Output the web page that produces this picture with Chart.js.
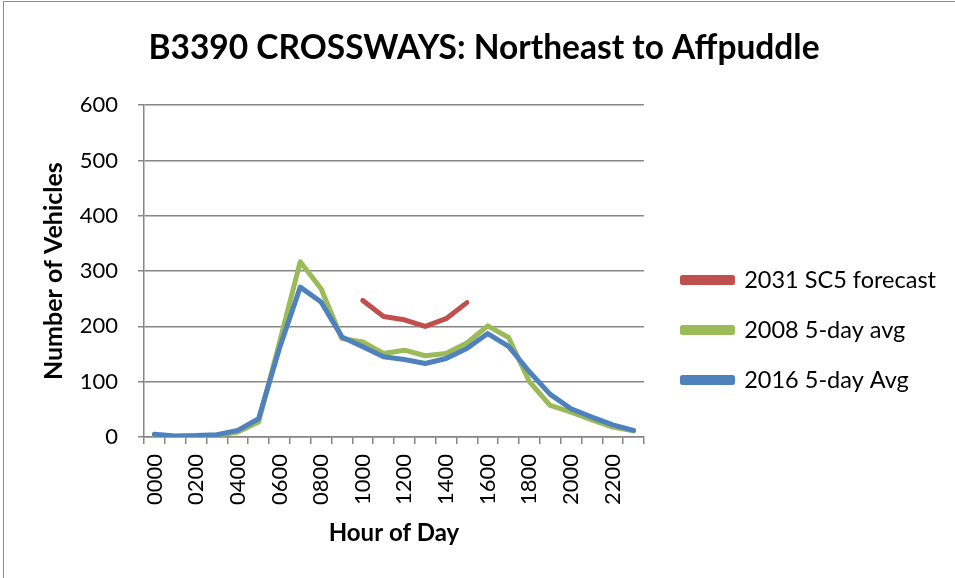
<!DOCTYPE html>
<html>
<head>
<meta charset="utf-8">
<script src="https://cdn.jsdelivr.net/npm/chart.js@4.4.0/dist/chart.umd.min.js"></script>
<style>
  html, body { margin: 0; padding: 0; background: #fff; overflow: hidden; }
  #c { position: absolute; left: 0; top: 0; }
  #frame { position: absolute; left: 3px; top: 1px; width: 1000px; height: 1000px; border: 1px solid #8c8c8c; pointer-events: none; }
</style>
</head>
<body>
<canvas id="c" width="955" height="578"></canvas>
<div id="frame"></div>
<script>
const hours = ['0000','0100','0200','0300','0400','0500','0600','0700','0800','0900','1000','1100',
               '1200','1300','1400','1500','1600','1700','1800','1900','2000','2100','2200','2300'];
const forecast2031 = [null,null,null,null,null,null,null,null,null,null,247,218,212,200,214,243,
                      null,null,null,null,null,null,null,null];
const avg2008 = [3,1,2,3,9,27,170,317,268,178,172,151,157,147,151,170,201,180,100,57,45,31,18,11];
const avg2016 = [5,2,2.5,4,12,33,160,271,244,181,163,145,140,133,142,160,187,164,118,77,51,36,22,12];
const yTicks = [0,100,200,300,400,500,600];

const FONT = 'Lato, "Open Sans", sans-serif';
Chart.defaults.font.family = FONT;
Chart.defaults.color = '#000';

const LEGEND_FONT = 23.5;
const LEGEND_PAD = 26.5;
const LEGEND_FIRST_Y = 280;

const legendPlacer = {
  id: 'legendPlacer',
  beforeDraw(chart) {
    const lg = chart.legend;
    if (lg) { lg.top = LEGEND_FIRST_Y - LEGEND_FONT / 2 - LEGEND_PAD; }
  }
};

new Chart(document.getElementById('c'), {
  type: 'line',
  plugins: [legendPlacer],
  data: {
    labels: hours,
    datasets: [
      { label: '2031 SC5 forecast', data: forecast2031, borderColor: '#C0504D', backgroundColor: '#C0504D', order: 0 },
      { label: '2008 5-day avg', data: avg2008, borderColor: '#9BBB59', backgroundColor: '#9BBB59', order: 2 },
      { label: '2016 5-day Avg', data: avg2016, borderColor: '#4F81BD', backgroundColor: '#4F81BD', order: 1 }
    ]
  },
  options: {
    responsive: false,
    animation: false,
    events: [],
    elements: {
      line: { borderWidth: 5, tension: 0, borderCapStyle: 'round', borderJoinStyle: 'round' },
      point: { radius: 0 }
    },
    layout: { padding: { left: 22, right: 9, top: 0, bottom: 26 } },
    plugins: {
      title: {
        display: true,
        text: 'B3390 CROSSWAYS: Northeast to Affpuddle',
        font: { size: 33.5, weight: 'bold', family: FONT },
        color: '#000',
        padding: { top: 28, bottom: 37 }
      },
      legend: {
        position: 'right',
        align: 'start',
        maxWidth: 340,
        labels: {
          boxWidth: 50,
          boxHeight: 5,
          padding: LEGEND_PAD,
          font: { size: LEGEND_FONT },
          color: '#000',
          sort: (a, b) => a.datasetIndex - b.datasetIndex
        }
      },
      tooltip: { enabled: false }
    },
    scales: {
      x: {
        offset: true,
        afterFit: (s) => { s.height = 115; },
        grid: { offset: true, drawOnChartArea: false, drawTicks: true, tickLength: 7, color: '#868686', lineWidth: 1.5 },
        border: { color: '#868686', width: 1.5 },
        ticks: {
          autoSkip: false, maxRotation: 90, minRotation: 90, padding: 10,
          font: { size: 22 },
          callback: function(v, i) { return i % 2 === 0 ? hours[i] : ''; }
        },
        title: { display: true, text: 'Hour of Day', font: { size: 24, weight: 'bold' }, padding: { top: 14, bottom: 4 } }
      },
      y: {
        min: 0, max: 600,
        afterBuildTicks: (s) => { s.ticks = yTicks.map(v => ({ value: v })); },
        afterFit: (s) => { s.width = 122; },
        grid: { color: '#868686', lineWidth: 1.5, tickLength: 6 },
        border: { color: '#868686', width: 1.5 },
        ticks: { font: { size: 22 }, padding: 20 },
        title: { display: true, text: 'Number of Vehicles', font: { size: 25, weight: 'bold' }, padding: { top: 17, bottom: 0 } }
      },
      gap: {
        type: 'linear', position: 'right', display: true,
        grid: { display: false, drawTicks: false }, border: { display: false },
        ticks: { display: false },
        afterFit: (s) => { s.width = 12; }
      }
    }
  }
});
</script>
</body>
</html>
